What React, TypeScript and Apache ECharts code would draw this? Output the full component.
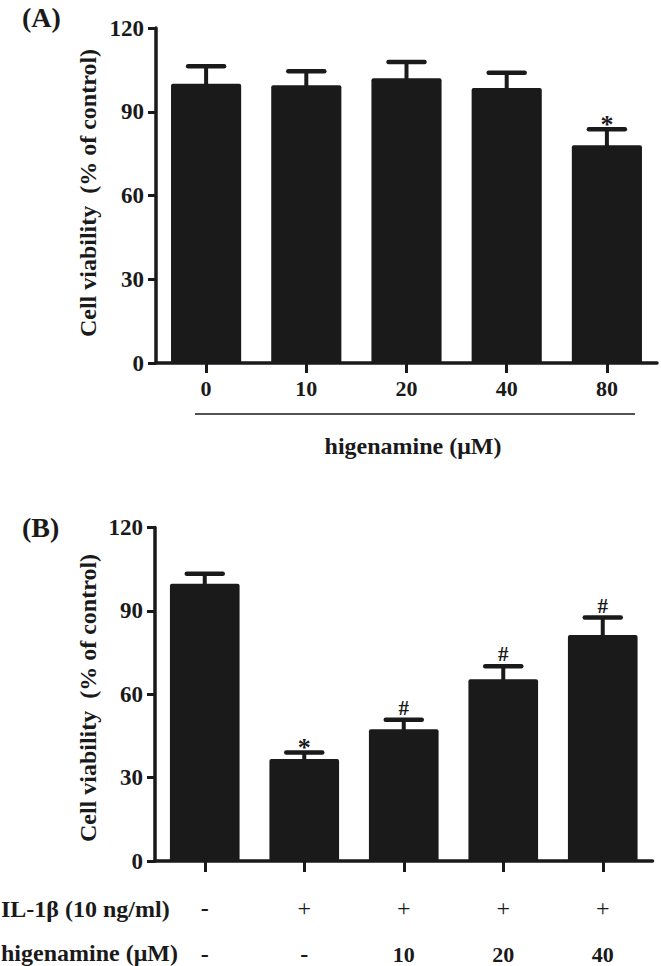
import React, { useEffect, useRef } from "react";
import * as echarts from "echarts";

// Panel A
const catsA = ["0", "10", "20", "40", "80"];
const meanA = [100, 99.5, 102, 98.5, 78];
const errA = [6.3, 5, 5.8, 5.5, 5.7];
const markA = ["", "", "", "", "*"];

// Panel B
const il1bRow = ["-", "+", "+", "+", "+"];
const higRow = ["-", "-", "10", "20", "40"];
const meanB = [99.8, 36.7, 47.4, 65.4, 81.3];
const errB = [3.6, 2.3, 3.4, 4.7, 6.3];
const markB = ["", "*", "#", "#", "#"];

const yMin = 0;
const yMax = 120;
const yStep = 30;

const INK = "#1a1a1a";
const FONT = '"Liberation Serif", "Times New Roman", serif';

function errorSeries(means: number[], errs: number[], marks: string[], axisIndex: number) {
  return {
    type: "custom",
    xAxisIndex: axisIndex,
    yAxisIndex: axisIndex,
    z: 5,
    data: means.map((m, i) => [i, m, errs[i]]),
    renderItem: (params: any, api: any) => {
      const i = params.dataIndex;
      const x = api.value(0);
      const m = api.value(1);
      const e = api.value(2);
      const top = api.coord([x, m]);
      const cap = api.coord([x, m + e]);
      const hw = 18;
      const children: any[] = [
        {
          type: "line",
          shape: { x1: top[0], y1: top[1] + 2, x2: cap[0], y2: cap[1] },
          style: { stroke: INK, lineWidth: 4 },
        },
        {
          type: "line",
          shape: { x1: cap[0] - hw, y1: cap[1], x2: cap[0] + hw, y2: cap[1] },
          style: { stroke: INK, lineWidth: 4.5, lineCap: "round" },
        },
      ];
      const mk = marks[i];
      if (mk) {
        children.push({
          type: "text",
          style: {
            text: mk,
            x: cap[0],
            y: mk === "*" ? cap[1] - 5 : cap[1] - 12,
            fill: INK,
            fontSize: mk === "*" ? 26 : 21,
            fontWeight: "bold",
            fontFamily: FONT,
            align: "center",
            verticalAlign: "middle",
          },
        });
      }
      return { type: "group", children };
    },
  };
}

function yAxisCfg(gridIndex: number) {
  return {
    type: "value",
    gridIndex,
    min: yMin,
    max: yMax,
    interval: yStep,
    splitLine: { show: false },
    axisLine: { show: true, lineStyle: { color: INK, width: 3.5 } },
    axisTick: { show: true, length: 8, lineStyle: { color: INK, width: 3 } },
    axisLabel: {
      margin: 12,
      color: INK,
      fontSize: 23,
      fontWeight: "bold",
      fontFamily: FONT,
    },
  };
}

export default function App() {
  const ref = useRef<HTMLDivElement>(null);
  useEffect(() => {
    if (!ref.current) return;
    const chart = echarts.init(ref.current, null, { renderer: "svg" });
    const titleStyle = {
      fill: INK,
      fontSize: 24,
      fontWeight: "bold",
      fontFamily: FONT,
    };
    const option: any = {
      animation: false,
      backgroundColor: "#ffffff",
      grid: [
        { left: 156, top: 28, width: 501, height: 335 },
        { left: 155, top: 527.5, width: 497.5, height: 334.5 },
      ],
      xAxis: [
        {
          type: "category",
          gridIndex: 0,
          data: catsA,
          axisLine: { show: true, lineStyle: { color: INK, width: 3.5 } },
          axisTick: { show: true, alignWithLabel: true, length: 10, lineStyle: { color: INK, width: 3 } },
          axisLabel: {
            margin: 14,
            color: INK,
            fontSize: 22,
            fontWeight: "bold",
            fontFamily: FONT,
          },
        },
        {
          type: "category",
          gridIndex: 1,
          data: il1bRow.map((_, i) => String(i)),
          axisLine: { show: true, lineStyle: { color: INK, width: 3.5 } },
          axisTick: { show: true, alignWithLabel: true, length: 11, lineStyle: { color: INK, width: 3 } },
          axisLabel: {
            interval: 0,
            margin: 24,
            color: INK,
            fontFamily: FONT,
            formatter: (_v: string, i: number) => {
              const a = il1bRow[i];
              const b = higRow[i];
              const sa = a === "+" ? "p" : "m";
              const sb = b === "-" ? "m" : b === "+" ? "p" : "n";
              return `{${sa}|${a}}\n{${sb}|${b}}`;
            },
            rich: {
              p: { fontSize: 24, fontWeight: "normal", fontFamily: FONT, color: INK, lineHeight: 46 },
              m: { fontSize: 24, fontWeight: "bold", fontFamily: FONT, color: INK, lineHeight: 46 },
              n: { fontSize: 22, fontWeight: "bold", fontFamily: FONT, color: INK, lineHeight: 46 },
            },
          },
        },
      ],
      yAxis: [yAxisCfg(0), yAxisCfg(1)],
      series: [
        {
          type: "bar",
          xAxisIndex: 0,
          yAxisIndex: 0,
          data: meanA,
          barWidth: "70%",
          itemStyle: { color: INK, borderRadius: [2, 2, 0, 0] },
        },
        errorSeries(meanA, errA, markA, 0),
        {
          type: "bar",
          xAxisIndex: 1,
          yAxisIndex: 1,
          data: meanB,
          barWidth: "70%",
          itemStyle: { color: INK, borderRadius: [2, 2, 0, 0] },
        },
        errorSeries(meanB, errB, markB, 1),
      ],
      graphic: [
        {
          type: "text",
          left: 22,
          top: 3,
          style: { text: "(A)", fill: INK, fontSize: 28, fontWeight: "bold", fontFamily: FONT },
        },
        {
          type: "text",
          left: 22,
          top: 513,
          style: { text: "(B)", fill: INK, fontSize: 28, fontWeight: "bold", fontFamily: FONT },
        },
        {
          type: "text",
          x: 88,
          y: 193,
          rotation: Math.PI / 2,
          style: {
            ...titleStyle,
            text: "Cell viability  (% of control)",
            align: "center",
            verticalAlign: "middle",
          },
        },
        {
          type: "text",
          x: 88,
          y: 698,
          rotation: Math.PI / 2,
          style: {
            ...titleStyle,
            text: "Cell viability  (% of control)",
            align: "center",
            verticalAlign: "middle",
          },
        },
        {
          type: "line",
          shape: { x1: 195, y1: 414, x2: 635, y2: 414 },
          style: { stroke: INK, lineWidth: 1.5 },
        },
        {
          type: "text",
          x: 413,
          y: 446,
          style: {
            ...titleStyle,
            text: "higenamine (μM)",
            align: "center",
            verticalAlign: "middle",
          },
        },
        {
          type: "text",
          x: 1,
          y: 909,
          style: {
            ...titleStyle,
            text: "IL-1β (10 ng/ml)",
            align: "left",
            verticalAlign: "middle",
          },
        },
        {
          type: "text",
          x: 1,
          y: 953,
          style: {
            ...titleStyle,
            text: "higenamine (μM)",
            align: "left",
            verticalAlign: "middle",
          },
        },
      ],
    };
    chart.setOption(option);
    return () => chart.dispose();
  }, []);
  return (
    <div
      ref={ref}
      style={{ position: "absolute", left: 0, top: 0, width: 661, height: 966, background: "#fff" }}
    />
  );
}
